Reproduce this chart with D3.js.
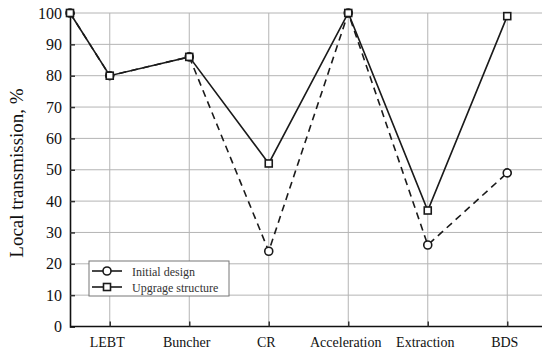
<!DOCTYPE html>
<html>
<head>
<meta charset="utf-8">
<script src="https://cdn.jsdelivr.net/npm/d3@7"></script>
<style>
  body { margin: 0; background: #fff; }
  svg, svg text { font-family: "Liberation Serif", "Times New Roman", "DejaVu Serif", serif; }
  svg { display: block; }
</style>
</head>
<body>
<svg id="chart" width="542" height="350"></svg>
<script>
'use strict';

// stages along the linac, the first point sits on the y axis (source)
var stages = ['LEBT', 'Buncher', 'CR', 'Acceleration', 'Extraction', 'BDS'];
var startValue = 100;
var initialDesign = [80, 86, 24, 100, 26, 49];
var upgradeStructure = [80, 86, 52, 100, 37, 99];
var yTicks = [0, 10, 20, 30, 40, 50, 60, 70, 80, 90, 100];
var legendLabels = ['Initial design', 'Upgrage structure'];

var serif = '"Liberation Serif", "Times New Roman", serif';
var svg = d3.select('#chart');
var plotLeft = 70, plotTop = 13, plotBottom = 326.5, step = 79.5;

var x = d3.scalePoint()
    .domain(stages)
    .range([plotLeft, plotLeft + step * stages.length])
    .padding(0.5);
var y = d3.scaleLinear().domain([0, 100]).range([plotBottom, plotTop]);

function xPos(d, i) { return i === 0 ? x.range()[0] : x(stages[i - 1]); }

// grid
var grid = svg.append('g').attr('stroke', '#b4b4b4').attr('stroke-width', 1);
grid.selectAll('line.h').data(yTicks.slice(1)).enter().append('line')
    .attr('x1', plotLeft).attr('x2', 542)
    .attr('y1', function(d) { return y(d); }).attr('y2', function(d) { return y(d); });
grid.selectAll('line.v').data(stages).enter().append('line')
    .attr('y1', plotTop).attr('y2', plotBottom)
    .attr('x1', function(d) { return x(d); }).attr('x2', function(d) { return x(d); });

// axes with inward ticks
var yAxis = svg.append('g').attr('transform', 'translate(' + plotLeft + ',0)')
    .call(d3.axisLeft(y).tickValues(yTicks).tickSize(-5).tickPadding(8));
var xAxis = svg.append('g').attr('transform', 'translate(0,' + plotBottom + ')')
    .call(d3.axisBottom(x).tickSize(-5).tickPadding(11));
xAxis.select('.domain').attr('d', 'M' + plotLeft + ',0H542');
[yAxis, xAxis].forEach(function(a) {
    a.attr('font-family', serif);
    a.select('.domain').attr('stroke', '#111').attr('stroke-width', 1.6);
    a.selectAll('.tick line').attr('stroke', '#333').attr('stroke-width', 1.5);
    a.selectAll('text').attr('fill', '#111');
});
yAxis.attr('font-size', 16);
xAxis.attr('font-size', 14);
// labels in the source sit slightly left of their grid lines
xAxis.selectAll('.tick text').attr('dx', -3);

svg.append('text')
    .attr('transform', 'translate(23,173) rotate(-90)')
    .attr('text-anchor', 'middle')
    .attr('font-family', serif)
    .attr('font-size', 19)
    .attr('fill', '#111')
    .text('Local transmission, %');

function withStart(arr) { return [startValue].concat(arr); }
var line = d3.line().x(function(d, i) { return xPos(d, i); }).y(function(d) { return y(d); });

svg.append('path').datum(withStart(initialDesign))
    .attr('d', line).attr('fill', 'none').attr('stroke', '#1a1a1a')
    .attr('stroke-width', 1.6).attr('stroke-dasharray', '7,5');
svg.append('path').datum(withStart(upgradeStructure))
    .attr('d', line).attr('fill', 'none').attr('stroke', '#1a1a1a')
    .attr('stroke-width', 1.6);

svg.selectAll('circle.m').data(withStart(initialDesign)).enter().append('circle')
    .attr('cx', function(d, i) { return xPos(d, i); })
    .attr('cy', function(d) { return y(d); })
    .attr('r', 4).attr('fill', '#fff').attr('stroke', '#1a1a1a').attr('stroke-width', 1.6);
svg.selectAll('rect.m').data(withStart(upgradeStructure)).enter().append('rect')
    .attr('x', function(d, i) { return xPos(d, i) - 3.5; })
    .attr('y', function(d) { return y(d) - 3.5; })
    .attr('width', 7).attr('height', 7)
    .attr('fill', '#fff').attr('stroke', '#1a1a1a').attr('stroke-width', 1.6);

// legend
var lg = svg.append('g').attr('transform', 'translate(89,261)').attr('font-family', serif);
lg.append('rect').attr('width', 140).attr('height', 35)
    .attr('fill', '#fff').attr('stroke', '#777').attr('stroke-width', 1);
legendLabels.forEach(function(label, i) {
    var ly = 10 + i * 16;
    var g = lg.append('g').attr('transform', 'translate(0,' + ly + ')');
    g.append('line').attr('x1', 3).attr('x2', 33).attr('stroke', '#1a1a1a').attr('stroke-width', 1.6);
    if (i === 0) {
        g.append('circle').attr('cx', 18).attr('r', 4)
            .attr('fill', '#fff').attr('stroke', '#1a1a1a').attr('stroke-width', 1.6);
    } else {
        g.append('rect').attr('x', 14.5).attr('y', -3.5).attr('width', 7).attr('height', 7)
            .attr('fill', '#fff').attr('stroke', '#1a1a1a').attr('stroke-width', 1.6);
    }
    g.append('text').attr('x', 43).attr('y', 4.5)
        .attr('font-size', 12).attr('fill', '#333').text(label);
});
</script>
</body>
</html>
